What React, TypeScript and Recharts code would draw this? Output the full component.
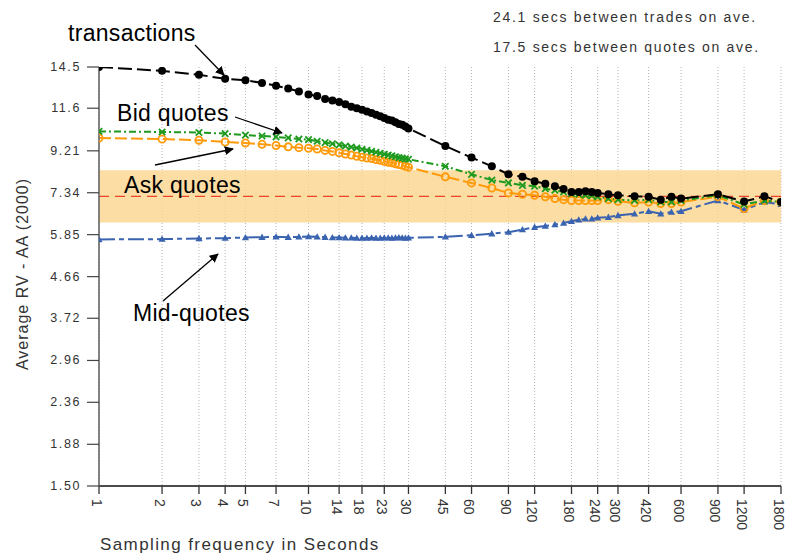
import React from "react";
import { LineChart, Line, XAxis, YAxis, CartesianGrid, ReferenceArea, ReferenceLine } from "recharts";

const seconds = [
  1, 2, 3, 4, 5, 6, 7, 8, 9, 10, 11, 12, 13, 14, 15, 16, 17, 18, 19, 20, 21, 22, 23, 24, 25, 26, 27, 28, 29, 30,
  45, 60, 75, 90, 105, 120, 135, 150, 165, 180, 195, 210, 225, 240, 270, 300, 360, 420, 480, 540, 600, 900, 1200, 1500, 1800,
];

const transactions = [
  14.5, 14.2, 13.9, 13.6, 13.5, 13.3, 13.1, 12.9, 12.7, 12.5, 12.4, 12.2, 12.1, 12.0, 11.85, 11.7, 11.6, 11.5, 11.4, 11.3,
  11.2, 11.1, 11.0, 10.9, 10.85, 10.75, 10.65, 10.6, 10.5, 10.4,
  9.45, 8.88, 8.47, 8.11, 8.0, 7.81, 7.71, 7.6, 7.49, 7.37, 7.37, 7.4, 7.37, 7.33, 7.28, 7.24, 7.2, 7.18, 7.07, 7.18, 7.11,
  7.28, 7.0, 7.2, 6.98,
];

const bidQuotes = [
  10.23, 10.2, 10.17, 10.11, 10.03, 9.98, 9.93, 9.88, 9.82, 9.79, 9.7, 9.63, 9.57, 9.51, 9.45, 9.4, 9.35, 9.29, 9.24, 9.19,
  9.14, 9.09, 9.04, 9.0, 8.96, 8.92, 8.88, 8.85, 8.82, 8.8,
  8.47, 8.11, 7.86, 7.74, 7.64, 7.61, 7.5, 7.44, 7.37, 7.3, 7.28, 7.24, 7.22, 7.18, 7.11, 7.07, 7.04, 7.07, 6.98, 6.98, 7.04,
  7.24, 6.89, 7.04, 6.98,
];

const askQuotes = [
  9.87, 9.82, 9.75, 9.66, 9.61, 9.54, 9.48, 9.41, 9.37, 9.34, 9.3, 9.23, 9.18, 9.11, 9.05, 9.0, 8.94, 8.9, 8.86, 8.83,
  8.78, 8.75, 8.7, 8.66, 8.63, 8.59, 8.55, 8.52, 8.47, 8.43,
  8.0, 7.74, 7.53, 7.33, 7.28, 7.24, 7.18, 7.11, 7.07, 7.04, 7.04, 7.04, 7.04, 7.04, 7.07, 7.01, 6.95, 6.98, 6.92, 6.92, 6.98,
  7.18, 6.74, 7.04, 6.98,
];

const midQuotes = [
  5.7, 5.71, 5.73, 5.74, 5.76, 5.77, 5.78, 5.77, 5.78, 5.79, 5.78, 5.77, 5.76, 5.76, 5.75, 5.75, 5.74, 5.74, 5.74, 5.75,
  5.74, 5.74, 5.75, 5.75, 5.74, 5.75, 5.76, 5.75, 5.74, 5.75,
  5.78, 5.83, 5.88, 5.93, 6.01, 6.09, 6.13, 6.18, 6.23, 6.29, 6.34, 6.37, 6.37, 6.41, 6.43, 6.49, 6.55, 6.64, 6.55, 6.61, 6.64,
  7.04, 6.69, 6.98, 6.89,
];

const xTicks = [1, 2, 3, 4, 5, 7, 10, 14, 18, 23, 30, 45, 60, 90, 120, 180, 240, 300, 420, 600, 900, 1200, 1800];
const yTicks = [1.5, 1.88, 2.36, 2.96, 3.72, 4.66, 5.85, 7.34, 9.21, 11.6, 14.5];
const yTickLabels = ["1.50", "1.88", "2.36", "2.96", "3.72", "4.66", "5.85", "7.34", "9.21", "11.6", "14.5"];

const bandLow = 6.25;
const bandHigh = 8.29;
const aaLevel = 7.2;

const noteTrades = "24.1 secs between trades on ave.";
const noteQuotes = "17.5 secs between quotes on ave.";

const data = seconds.map((s, i) => ({
  s,
  transactions: transactions[i],
  bid: bidQuotes[i],
  ask: askQuotes[i],
  mid: midQuotes[i],
}));

const FONT = "'Liberation Sans', Arial, Helvetica, sans-serif";

const XTick = (props: any) => {
  const { x, payload } = props;
  const y = 499;
  const cx = x - 2.5;
  return (
    <text
      x={cx}
      y={y}
      transform={`rotate(90, ${cx}, ${y})`}
      textAnchor="start"
      dominantBaseline="central"
      fontFamily={FONT}
      fontSize={14}
      fill="#333"
    >
      {payload.value}
    </text>
  );
};

const YTick = (props: any) => {
  const { y, payload } = props;
  const idx = yTicks.indexOf(payload.value);
  const label = idx >= 0 ? yTickLabels[idx] : String(payload.value);
  return (
    <text
      x={81}
      y={y}
      textAnchor="end"
      dominantBaseline="central"
      fontFamily={FONT}
      fontSize={12.5}
      letterSpacing={1.6}
      fill="#333"
    >
      {label}
    </text>
  );
};

const BlackDot = (p: any) => {
  if (p.cx == null || p.cy == null) return <g key={p.index} />;
  return <circle key={p.index} cx={p.cx} cy={p.cy} r={4} fill="#000" stroke="none" />;
};

const OrangeDot = (p: any) => {
  if (p.cx == null || p.cy == null) return <g key={p.index} />;
  return <circle key={p.index} cx={p.cx} cy={p.cy} r={3.6} fill="none" stroke="#FF9A0A" strokeWidth={1.8} />;
};

const GreenDot = (p: any) => {
  if (p.cx == null || p.cy == null) return <g key={p.index} />;
  const d = 3.2;
  return (
    <g key={p.index}>
      <line x1={p.cx - d} y1={p.cy - d} x2={p.cx + d} y2={p.cy + d} stroke="#1E9A1E" strokeWidth={1.8} />
      <line x1={p.cx - d} y1={p.cy + d} x2={p.cx + d} y2={p.cy - d} stroke="#1E9A1E" strokeWidth={1.8} />
    </g>
  );
};

const BlueDot = (p: any) => {
  if (p.cx == null || p.cy == null) return <g key={p.index} />;
  const s = 3.6;
  return (
    <polygon
      key={p.index}
      points={`${p.cx},${p.cy - s} ${p.cx - s},${p.cy + s * 0.75} ${p.cx + s},${p.cy + s * 0.75}`}
      fill="#3A63B0"
    />
  );
};

const Annotations = () => (
  <svg
    width={786}
    height={558}
    style={{ position: "absolute", left: 0, top: 0, pointerEvents: "none" }}
  >
    <defs>
      <marker id="arr" viewBox="0 0 10 10" refX="9" refY="5" markerWidth="7" markerHeight="7" orient="auto">
        <path d="M0,0 L10,5 L0,10 z" fill="#000" />
      </marker>
    </defs>
    <g fontFamily={FONT} fontSize={23} fill="#000" letterSpacing={0.3}>
      <text x={68} y={41}>transactions</text>
      <text x={117} y={121}>Bid quotes</text>
      <text x={124} y={193}>Ask quotes</text>
      <text x={133} y={321}>Mid-quotes</text>
    </g>
    <g stroke="#000" strokeWidth={1.3} markerEnd="url(#arr)">
      <line x1={195} y1={45} x2={224} y2={75} />
      <line x1={235} y1={117} x2={282} y2={133} />
      <line x1={155} y1={165} x2={233} y2={149} />
      <line x1={163} y1={301} x2={218} y2={254} />
    </g>
    <g fontFamily={FONT} fontSize={14} fill="#333" letterSpacing={1.7}>
      <text x={493} y={22}>{noteTrades}</text>
      <text x={493} y={52}>{noteQuotes}</text>
    </g>
    <text
      x={0}
      y={0}
      transform="translate(28, 274) rotate(-90)"
      textAnchor="middle"
      fontFamily={FONT}
      fontSize={16}
      letterSpacing={1}
      fill="#333"
    >
      Average RV - AA (2000)
    </text>
    <text x={100} y={550} fontFamily={FONT} fontSize={17} letterSpacing={1.4} fill="#333">
      Sampling frequency in Seconds
    </text>
  </svg>
);

export default function App() {
  return (
    <div style={{ position: "absolute", left: 0, top: 0, width: 786, height: 558, background: "#fff" }}>
      <LineChart width={786} height={558} data={data} margin={{ top: 67, right: 5, bottom: 0, left: 0 }}>
        <ReferenceArea y1={bandLow} y2={bandHigh} fill="#FBD48C" fillOpacity={0.8} stroke="none" />
        <CartesianGrid vertical={true} horizontal={false} stroke="#b5b5b5" strokeDasharray="1 2" />
        <ReferenceLine y={aaLevel} stroke="#E8452C" strokeWidth={1.3} strokeDasharray="10 6" />
        <XAxis
          dataKey="s"
          type="number"
          scale="log"
          domain={[1, 1800]}
          ticks={xTicks}
          interval={0}
          height={72}
          tickSize={8}
          tick={<XTick />}
          axisLine={{ stroke: "#111", strokeWidth: 1.6 }}
          tickLine={{ stroke: "#333", strokeWidth: 1.3 }}
          allowDataOverflow
        />
        <YAxis
          type="number"
          scale="log"
          domain={[1.5, 14.5]}
          ticks={yTicks}
          interval={0}
          width={99}
          tickSize={12}
          tick={<YTick />}
          axisLine={{ stroke: "#666", strokeWidth: 1.6 }}
          tickLine={{ stroke: "#444", strokeWidth: 1.2 }}
          allowDataOverflow
        />
        <Line
          dataKey="mid"
          stroke="#3A63B0"
          strokeWidth={2}
          strokeDasharray="16 4 5 4"
          dot={BlueDot}
          isAnimationActive={false}
        />
        <Line
          dataKey="ask"
          stroke="#FF9A0A"
          strokeWidth={2}
          strokeDasharray="12 4"
          dot={OrangeDot}
          isAnimationActive={false}
        />
        <Line
          dataKey="bid"
          stroke="#1E9A1E"
          strokeWidth={2}
          strokeDasharray="7 3 2 3"
          dot={GreenDot}
          isAnimationActive={false}
        />
        <Line
          dataKey="transactions"
          stroke="#000"
          strokeWidth={2}
          strokeDasharray="14 5"
          dot={BlackDot}
          isAnimationActive={false}
        />
      </LineChart>
      <Annotations />
    </div>
  );
}
